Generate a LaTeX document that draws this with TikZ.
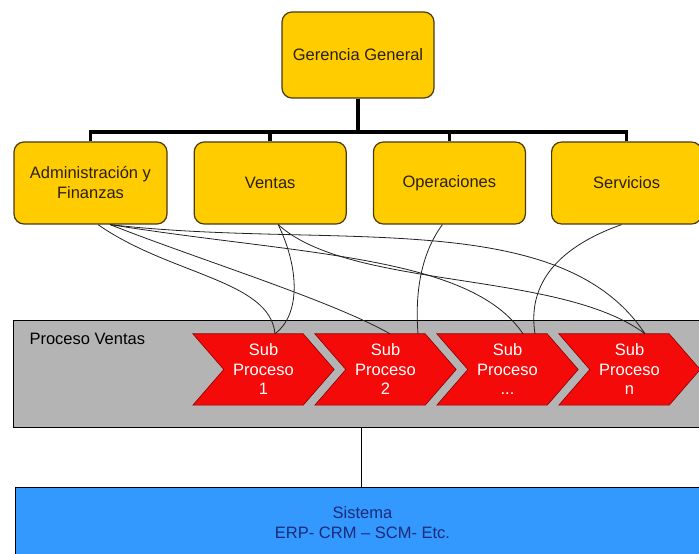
\documentclass[tikz,border=0pt]{standalone}
\usepackage{fontspec}
\setmainfont{Liberation Sans}
\usepackage{xcolor}
\usetikzlibrary{positioning}

\definecolor{gold}{HTML}{FFCC00}
\definecolor{boxline}{HTML}{4A3A08}
\definecolor{boxtext}{HTML}{2B2010}
\definecolor{bandgray}{HTML}{B4B4B4}
\definecolor{subred}{HTML}{F50A0A}
\definecolor{subline}{HTML}{8A0000}
\definecolor{sysblue}{HTML}{3399FF}
\definecolor{systext}{HTML}{1C2A78}
\definecolor{linkgray}{HTML}{222222}

\newcommand{\subdots}{...}

\begin{document}
\begin{tikzpicture}[
  x=1pt, y=1pt,
  font=\fontsize{16.5}{20}\selectfont,
  box/.style={draw=boxline, line width=1.2pt, fill=gold, rounded corners=10pt, align=center,
    minimum width=152pt, minimum height=82pt, text=boxtext},
  bar/.style={line width=3.5pt},
  link/.style={draw=linkgray, line width=0.8pt},
  band/.style={draw, line width=0.8pt, fill=bandgray, minimum width=697pt, minimum height=107pt},
  chevslot/.style={minimum width=141pt, minimum height=71pt, inner sep=0pt},
  subfill/.style={fill=subred, draw=subline, line width=0.6pt},
  subtext/.style={text=white, align=center, font=\fontsize{16.5}{19.5}\selectfont},
  sysbox/.style={draw, line width=0.8pt, fill=sysblue, text=systext, align=center,
    minimum width=695pt, minimum height=71pt}
]
  \useasboundingbox (0,0) rectangle (699,554);
  \clip (0,0) rectangle (699,554);

  % org chart
  \node[box, minimum height=86pt] (ger) at (358,499) {Gerencia General};
  \node[box, minimum width=153pt] (adm) at (90.5,371) {Administración y\\Finanzas};
  \node[box, right=26pt of adm] (ven) {Ventas};
  \node[box, right=26pt of ven] (ope) {Operaciones};
  \node[box, minimum width=150pt, right=25pt of ope] (ser) {Servicios};

  \coordinate (bus) at (358,422);
  \draw[bar] (ger.south) -- (bus);
  \foreach \c in {adm,ven,ope,ser}
    \draw[bar] (\c.north) |- (bus);

  % process band with its sub-processes
  \node[band] (proc) at (361.5,180.5) {};
  \node[anchor=west] (pvlbl) at (26,215) {Proceso Ventas};

  \foreach \i/\lbl in {1/1,2/2,3/\subdots,4/n}{
    \node[chevslot] (sp\i) at ({263.5+122*(\i-1)},184.5) {};
    \filldraw[subfill] (sp\i.north west) -- ([xshift=-31pt]sp\i.north east) -- (sp\i.east)
      -- ([xshift=-31pt]sp\i.south east) -- (sp\i.south west) -- ([xshift=31pt]sp\i.west) -- cycle;
    \node[subtext] at (sp\i) {Sub\\Proceso\\\lbl};
  }

  % system layer
  \node[sysbox] (sys) at (362.5,31.5) {Sistema\\ERP- CRM -- SCM- Etc.};
  \draw[line width=0.8pt] (proc.south) -- (proc.south |- sys.north);

  % areas -> sub-processes
  \draw[link] ([xshift=7.5pt]adm.south) .. controls (170,279) and (270,274) .. ([xshift=11.5pt]sp1.north);
  \draw[link] ([xshift=8pt]ven.south) .. controls (300,284) and (300,239) .. ([xshift=11.5pt]sp1.north);
  \draw[link] ([xshift=19.5pt]adm.south) .. controls (200,294) and (330,254) .. ([xshift=4.5pt]sp2.north);
  \draw[link] ([xshift=-7pt]ope.south) .. controls (420,299) and (415,259) .. ([xshift=32.5pt]sp2.north);
  \draw[link] ([xshift=19.5pt]adm.south) .. controls (300,299) and (470,299) .. ([xshift=15.5pt]sp3.north);
  \draw[link] ([xshift=-5pt]ser.south) .. controls (550,304) and (528,264) .. ([xshift=27.5pt]sp3.north);
  \draw[link] ([xshift=19.5pt]adm.south) .. controls (330,304) and (560,349) .. ([xshift=15.5pt]sp4.north);
  \draw[link] ([xshift=8pt]ven.south) .. controls (350,264) and (560,284) .. ([xshift=15.5pt]sp4.north);
\end{tikzpicture}
\end{document}
